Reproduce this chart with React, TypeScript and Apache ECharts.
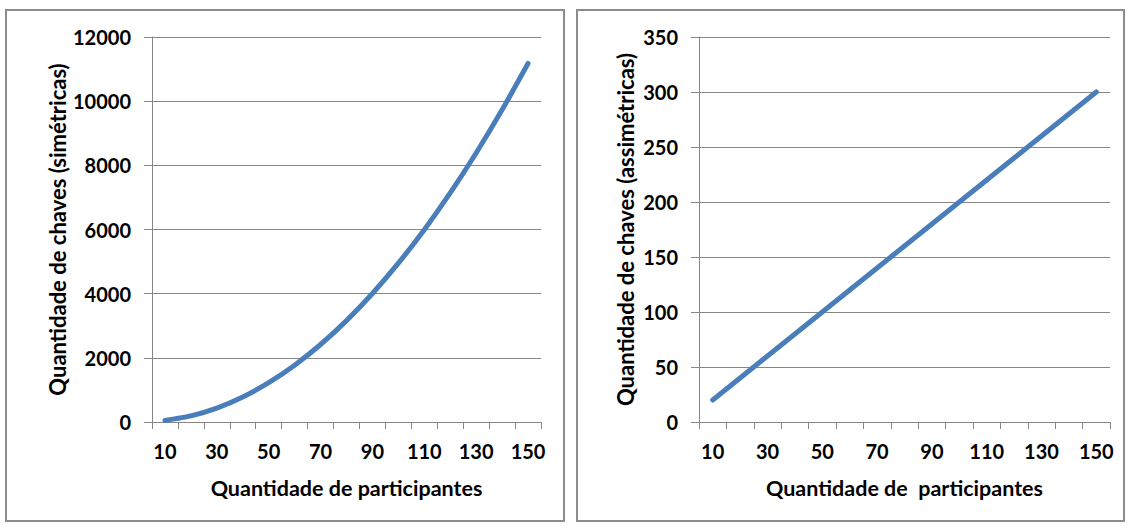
import React, { useEffect, useRef } from "react";
import * as echarts from "echarts";

const categories = ["10", "20", "30", "40", "50", "60", "70", "80", "90", "100", "110", "120", "130", "140", "150"];
const symmetricKeys = [45, 190, 435, 780, 1225, 1770, 2415, 3160, 4005, 4950, 5995, 7140, 8385, 9730, 11175];
const asymmetricKeys = [20, 40, 60, 80, 100, 120, 140, 160, 180, 200, 220, 240, 260, 280, 300];

const FONT = "Lato";
const GRAY = "#868686";
const BLUE = "#4A7EBB";

export default function App() {
  const ref = useRef<HTMLDivElement>(null);
  useEffect(() => {
    if (!ref.current) return;
    const chart = echarts.init(ref.current, null, { renderer: "svg" });
    const labelStyle = { fontFamily: FONT, fontWeight: "bold" as const, fontSize: 20, color: "#000" };
    const nameStyle = { fontFamily: FONT, fontWeight: "bold" as const, fontSize: 21.5, color: "#000" };
    const xAxisBase = (gridIndex: number, name: string) => ({
      type: "category" as const,
      gridIndex,
      data: categories,
      boundaryGap: true,
      name,
      nameLocation: "middle" as const,
      nameGap: 55,
      nameTextStyle: nameStyle,
      axisLine: { lineStyle: { color: GRAY, width: 1 } },
      axisTick: { show: true, interval: 0, length: 7, lineStyle: { color: GRAY } },
      axisLabel: { interval: 1, margin: 19, ...labelStyle },
      splitLine: { show: false },
    });
    const yAxisBase = (gridIndex: number, name: string, max: number, interval: number, nameGap: number) => ({
      type: "value" as const,
      gridIndex,
      min: 0,
      max,
      interval,
      name,
      nameLocation: "middle" as const,
      nameGap,
      nameTextStyle: { ...nameStyle, fontSize: 22 },
      axisLine: { show: true, lineStyle: { color: GRAY, width: 1 } },
      axisTick: { show: true, length: 8, lineStyle: { color: GRAY } },
      axisLabel: { margin: 21, formatter: (v: number) => String(v), ...labelStyle },
      splitLine: { show: true, lineStyle: { color: GRAY, width: 1 } },
    });
    chart.setOption({
      animation: false,
      backgroundColor: "#fff",
      graphic: [
        { type: "rect", shape: { x: 6, y: 10, width: 558, height: 511 }, style: { fill: "none", stroke: "#8c8c8c", lineWidth: 2 }, silent: true },
        { type: "rect", shape: { x: 577, y: 10, width: 547, height: 511 }, style: { fill: "none", stroke: "#8c8c8c", lineWidth: 2 }, silent: true },
      ],
      grid: [
        { left: 152, right: 588, top: 37, bottom: 105 },
        { left: 699, right: 19, top: 37, bottom: 105 },
      ],
      xAxis: [
        xAxisBase(0, "Quantidade de participantes"),
        xAxisBase(1, "Quantidade de  participantes"),
      ],
      yAxis: [
        yAxisBase(0, "Quantidade de chaves (simétricas)", 12000, 2000, 84),
        yAxisBase(1, "Quantidade de chaves (assimétricas)", 350, 50, 63),
      ],
      series: [
        {
          type: "line",
          xAxisIndex: 0,
          yAxisIndex: 0,
          data: symmetricKeys,
          smooth: 0.2,
          showSymbol: false,
          lineStyle: { color: BLUE, width: 5, cap: "round", join: "round" },
        },
        {
          type: "line",
          xAxisIndex: 1,
          yAxisIndex: 1,
          data: asymmetricKeys,
          showSymbol: false,
          lineStyle: { color: BLUE, width: 5, cap: "round", join: "round" },
        },
      ],
    });
    return () => chart.dispose();
  }, []);
  return (
    <div
      ref={ref}
      style={{ position: "fixed", left: 0, top: 0, width: 1129, height: 527, background: "#fff" }}
    />
  );
}
